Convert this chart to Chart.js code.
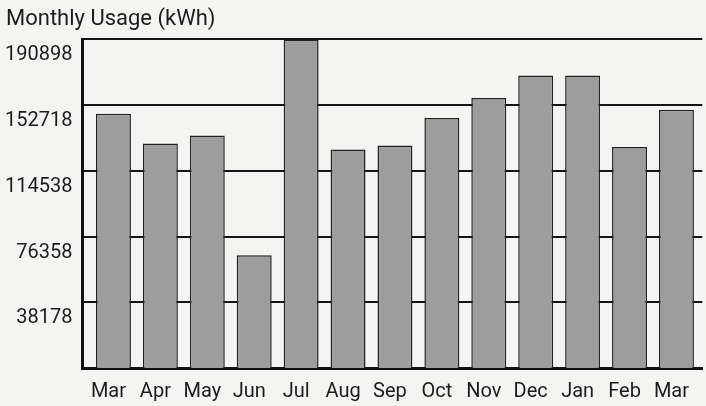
<!DOCTYPE html>
<html>
<head>
<meta charset="utf-8">
<script src="https://cdn.jsdelivr.net/npm/chart.js@4.4.1/dist/chart.umd.min.js"></script>
<style>
  html, body { margin: 0; padding: 0; background: #f4f4f3; }
  #wrap { width: 706px; height: 406px; }
</style>
</head>
<body>
<div id="wrap"><canvas id="usage"></canvas></div>
<script>
// months shown on the x axis (Mar of one year to Mar of the next)
var months = ['Mar', 'Apr', 'May', 'Jun', 'Jul', 'Aug', 'Sep', 'Oct', 'Nov', 'Dec', 'Jan', 'Feb', 'Mar'];
// monthly usage in kWh
var usage = [147700, 130400, 135000, 65500, 190898, 126900, 129200, 145300, 156800, 169900, 169900, 128400, 150000];
// y axis tick values as printed
var yTicks = [38178, 76358, 114538, 152718, 190898];

var points = usage.map(function (v, i) { return { x: i, y: v }; });

Chart.defaults.font.family = 'Roboto';
Chart.defaults.color = '#1c1c1c';

new Chart(document.getElementById('usage'), {
    type: 'bar',
    data: {
        datasets: [{
            label: 'Monthly Usage (kWh)',
            data: points,
            backgroundColor: '#9d9d9d',
            borderColor: '#222',
            borderWidth: 1.5,
            categoryPercentage: 1,
            barPercentage: 0.745
        }]
    },
    options: {
        responsive: true,
        maintainAspectRatio: false,
        animation: false,
        layout: { padding: { left: 6, right: 0, top: 0, bottom: 0 } },
        plugins: {
            legend: { display: false },
            tooltip: { enabled: false },
            title: {
                display: true,
                text: 'Monthly Usage (kWh)',
                align: 'start',
                color: '#1c1c1c',
                font: { size: 22, weight: 'normal' },
                padding: { top: 6, bottom: 7 }
            }
        },
        scales: {
            x: {
                type: 'linear',
                offset: false,
                min: -0.66,
                max: 12.55,
                afterBuildTicks: function (scale) {
                    scale.ticks = months.map(function (m, i) { return { value: i }; });
                },
                afterFit: function (scale) { scale.height = 38; },
                ticks: {
                    autoSkip: false,
                    maxRotation: 0,
                    padding: 12,
                    labelOffset: -5,
                    font: { size: 20 },
                    callback: function (v) { return months[v]; }
                },
                grid: { display: false, drawTicks: false, offset: false },
                border: { display: true, color: '#111', width: 3 }
            },
            y: {
                min: 0,
                max: 190898,
                afterBuildTicks: function (scale) {
                    scale.ticks = yTicks.map(function (v) { return { value: v }; });
                },
                afterFit: function (scale) { scale.width = 76.5; },
                ticks: {
                    padding: 10,
                    labelOffset: 16,
                    font: { size: 20 },
                    callback: function (v) { return String(v); }
                },
                grid: { color: '#151515', lineWidth: 2, drawTicks: false },
                border: { display: true, color: '#111', width: 3 }
            }
        }
    }
});
</script>
</body>
</html>
